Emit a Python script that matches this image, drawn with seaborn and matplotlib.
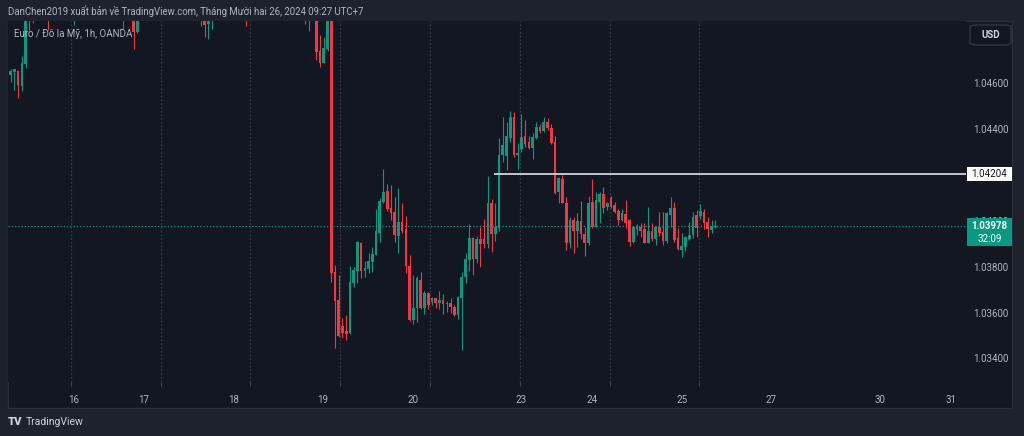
import matplotlib
matplotlib.use("Agg")
import matplotlib.pyplot as plt
from matplotlib.patches import Rectangle, FancyBboxPatch
import numpy as np
import pandas as pd
import seaborn as sns

# ---------------- data (EUR/USD 1h, OANDA) ----------------
# bar = hourly bar number relative to the FOMC candle (only bars visible in the chart)
bars = [-86, -85, -84, -83, -82, -81, -80, -76, -69, -56, -53, -52, -35, -34, -33, -32,
        -23, -7, -6, -4, -3, -2, -1] + list(range(0, 104))

opens = [1.04636, 1.04651, 1.04655, 1.04590, 1.04684, 1.04960, 1.04910, 1.05000, 1.04930, 1.04920,
         1.04950, 1.04825, 1.05000, 1.04900, 1.04859, 1.04890, 1.04990, 1.04980, 1.04920, 1.04960,
         1.04741, 1.04690, 1.04748,
         1.04950, 1.03778, 1.03655, 1.03541, 1.03519, 1.03509, 1.03730, 1.03782, 1.03905, 1.03782,
         1.03790, 1.03819, 1.03851, 1.03948, 1.04083, 1.04130, 1.04055, 1.04037, 1.03935, 1.03994,
         1.03963, 1.03804, 1.03567, 1.03618, 1.03742, 1.03618, 1.03686, 1.03645, 1.03662, 1.03641,
         1.03655, 1.03637, 1.03643, 1.03625, 1.03589, 1.03662, 1.03754, 1.03829, 1.03924, 1.03832,
         1.03920, 1.03920, 1.03899, 1.04079, 1.03943, 1.03967, 1.04287, 1.04283, 1.04360, 1.04452,
         1.04287, 1.04312, 1.04370, 1.04345, 1.04316, 1.04360, 1.04411, 1.04393, 1.04432, 1.04404,
         1.04345, 1.04127, 1.04181, 1.04079, 1.03902, 1.04004, 1.03957, 1.03999, 1.03943, 1.03905,
         1.04083, 1.03974, 1.04083, 1.04117, 1.04059, 1.04098, 1.04069, 1.04044, 1.04004, 1.04030,
         1.04004, 1.03909, 1.03963, 1.03974, 1.03963, 1.03905, 1.03957, 1.03919, 1.03974, 1.03953,
         1.03913, 1.04025, 1.04055, 1.03924, 1.03873, 1.03884, 1.03919, 1.03938, 1.04025, 1.04021,
         1.04040, 1.03996, 1.03960, 1.03972]

highs = [1.04661, 1.04663, 1.04658, 1.04719, 1.04950, 1.04990, 1.05010, 1.05030, 1.05020, 1.05010,
         1.04980, 1.04990, 1.05030, 1.04930, 1.04920, 1.04970, 1.05020, 1.05010, 1.04990, 1.04990,
         1.04811, 1.04803, 1.04990,
         1.04990, 1.03807, 1.03764, 1.03577, 1.03589, 1.03803, 1.03800, 1.03913, 1.03909, 1.03826,
         1.03861, 1.03885, 1.04050, 1.04098, 1.04226, 1.04161, 1.04156, 1.04105, 1.04142, 1.04076,
         1.04021, 1.03850, 1.03764, 1.03759, 1.03775, 1.03695, 1.03688, 1.03669, 1.03664, 1.03695,
         1.03681, 1.03650, 1.03662, 1.03633, 1.03672, 1.03778, 1.03858, 1.03986, 1.03928, 1.03934,
         1.03974, 1.04007, 1.04196, 1.04094, 1.04079, 1.04360, 1.04452, 1.04432, 1.04480, 1.04476,
         1.04338, 1.04466, 1.04440, 1.04370, 1.04384, 1.04432, 1.04422, 1.04452, 1.04447, 1.04422,
         1.04370, 1.04193, 1.04200, 1.04103, 1.04015, 1.04015, 1.04033, 1.04088, 1.03974, 1.04108,
         1.04181, 1.04124, 1.04124, 1.04146, 1.04083, 1.04108, 1.04083, 1.04050, 1.04050, 1.04091,
         1.04007, 1.03979, 1.03986, 1.03989, 1.03989, 1.04062, 1.03989, 1.03977, 1.04040, 1.04040,
         1.04040, 1.04105, 1.04083, 1.03967, 1.03946, 1.03934, 1.03996, 1.04040, 1.04047, 1.04073,
         1.04050, 1.04015, 1.04004, 1.04004]

lows = [1.04607, 1.04571, 1.04535, 1.04566, 1.04665, 1.04834, 1.04862, 1.04833, 1.04854, 1.04836,
        1.04748, 1.04820, 1.04851, 1.04803, 1.04793, 1.04837, 1.04851, 1.04859, 1.04830, 1.04702,
        1.04672, 1.04688, 1.04741,
        1.03734, 1.03444, 1.03492, 1.03489, 1.03480, 1.03506, 1.03713, 1.03730, 1.03749, 1.03754,
        1.03771, 1.03778, 1.03849, 1.03909, 1.04079, 1.04044, 1.04004, 1.03909, 1.03861, 1.03946,
        1.03771, 1.03565, 1.03550, 1.03560, 1.03614, 1.03592, 1.03614, 1.03633, 1.03618, 1.03615,
        1.03594, 1.03604, 1.03599, 1.03585, 1.03570, 1.03436, 1.03727, 1.03782, 1.03764, 1.03815,
        1.03800, 1.03880, 1.03880, 1.03865, 1.03913, 1.03957, 1.04258, 1.04222, 1.04345, 1.04280,
        1.04225, 1.04302, 1.04321, 1.04312, 1.04268, 1.04356, 1.04384, 1.04389, 1.04396, 1.04335,
        1.04117, 1.04079, 1.04076, 1.03873, 1.03880, 1.03861, 1.03887, 1.03919, 1.03847, 1.03895,
        1.03967, 1.03972, 1.03992, 1.04035, 1.04047, 1.04055, 1.04033, 1.03982, 1.04001, 1.03967,
        1.03890, 1.03905, 1.03938, 1.03931, 1.03902, 1.03902, 1.03913, 1.03895, 1.03934, 1.03895,
        1.03905, 1.03974, 1.03909, 1.03873, 1.03841, 1.03870, 1.03916, 1.03924, 1.03928, 1.04007,
        1.03963, 1.03931, 1.03948, 1.03967]

closes = [1.04655, 1.04661, 1.04593, 1.04690, 1.04920, 1.04910, 1.04970, 1.04950, 1.04990, 1.04980,
          1.04825, 1.04960, 1.04940, 1.04856, 1.04890, 1.04950, 1.04930, 1.04920, 1.04970, 1.04738,
          1.04690, 1.04753, 1.04950,
          1.03774, 1.03652, 1.03497, 1.03509, 1.03506, 1.03734, 1.03785, 1.03906, 1.03782, 1.03795,
          1.03826, 1.03854, 1.03956, 1.04088, 1.04127, 1.04052, 1.04035, 1.03938, 1.03994, 1.03957,
          1.03803, 1.03567, 1.03618, 1.03749, 1.03618, 1.03686, 1.03633, 1.03662, 1.03643, 1.03655,
          1.03637, 1.03643, 1.03623, 1.03589, 1.03666, 1.03754, 1.03832, 1.03924, 1.03832, 1.03921,
          1.03900, 1.03898, 1.04079, 1.03943, 1.03972, 1.04287, 1.04330, 1.04370, 1.04452, 1.04287,
          1.04297, 1.04364, 1.04335, 1.04316, 1.04364, 1.04408, 1.04393, 1.04432, 1.04404, 1.04338,
          1.04123, 1.04186, 1.04079, 1.03902, 1.04004, 1.03957, 1.03999, 1.03943, 1.03905, 1.04079,
          1.03972, 1.04091, 1.04117, 1.04055, 1.04079, 1.04059, 1.04040, 1.04004, 1.04033, 1.03992,
          1.03909, 1.03972, 1.03974, 1.03957, 1.03905, 1.03957, 1.03919, 1.03974, 1.03946, 1.03913,
          1.04033, 1.04055, 1.03916, 1.03876, 1.03890, 1.03928, 1.03938, 1.04018, 1.03967, 1.04044,
          1.03989, 1.03963, 1.03977, 1.03978]

price_ticks = [1.03400, 1.03600, 1.03800, 1.04000, 1.04200, 1.04400, 1.04600]
day_labels = ["16", "17", "18", "19", "20", "23", "24", "25", "27", "30", "31"]
day_label_bars = [-69.0, -50.2, -26.1, -2.2, 21.9, 50.9, 69.9, 94.1, 118.0, 147.2, 166.3]
grid_bars = [-69.8, -45.7, -21.8, 2.3, 26.5, 50.6, 74.8, 98.6]
ray_price = 1.04204
ray_start_bar = 43.7
last_price = 1.03978
countdown = "32:09"
title = "DanChen2019 xuất bản về TradingView.com, Tháng Mười hai 26, 2024 09:27 UTC+7"
legend = "Euro / Đô la Mỹ, 1h, OANDA"

df = pd.DataFrame({"bar": bars, "open": opens, "high": highs, "low": lows, "close": closes})
df["up"] = df["close"] >= df["open"]

# ---------------- style ----------------
sns.set_theme(style="dark")
plt.rcParams['font.family'] = ['Roboto', 'DejaVu Sans']
UP, DOWN = "#089981", "#F23645"
BG, FRAME, TXT = "#131722", "#1e222d", "#b2b5be"

W, H = 1024, 436
fig = plt.figure(figsize=(W / 100, H / 100), dpi=100, facecolor=FRAME)
fig.add_artist(Rectangle((8 / W, 1 - 408 / H), (1012 - 8) / W, (408 - 21) / H,
                         transform=fig.transFigure, facecolor=BG, edgecolor="#2a2e39",
                         lw=1, zorder=-5))

ax = fig.add_axes([8 / W, 1 - 382 / H, (966 - 8) / W, (382 - 21) / H])
ax.set_facecolor(BG)
ax.grid(False)
for s in ax.spines.values():
    s.set_visible(False)

ax.set_xlim(-86.72, 170.25)
ax.set_ylim(1.03297, 1.04872)

# vertical dotted grid lines
ax.vlines(grid_bars, 1.03297, 1.04872, colors="#363a45", linestyles=(0, (1.5, 1.5)), lw=0.9, zorder=1)

# last price dotted line
ax.axhline(last_price, color=UP, ls=(0, (1, 1.6)), lw=0.9, zorder=1.5)

# candles
colors = np.where(df["up"], UP, DOWN)
ax.vlines(df["bar"], df["low"], df["high"], colors=colors, lw=0.8, zorder=2)
body_bottom = np.minimum(df["open"], df["close"])
body_h = np.maximum(np.abs(df["close"] - df["open"]), 0.00004)
ax.bar(df["bar"], body_h, bottom=body_bottom, width=0.72, color=colors, linewidth=0, zorder=3)

# horizontal ray
ax.hlines(ray_price, ray_start_bar, 170.25, colors="#c3c6ce", lw=1.4, zorder=4)

# y axis on right (1.04000 sits under the last-price badge, as in TradingView)
ax.yaxis.tick_right()
ax.set_yticks(price_ticks)
ax.set_yticklabels([f"{p:.5f}" for p in price_ticks])
ax.tick_params(axis="y", length=0, pad=5, labelsize=7, labelcolor=TXT)

# x axis
ax.set_xticks(day_label_bars)
ax.set_xticklabels(day_labels)
ax.set_xticks(grid_bars, minor=True)
ax.tick_params(axis="x", which="major", length=0, pad=9, labelsize=7, labelcolor=TXT)
ax.tick_params(axis="x", which="minor", length=3, width=0.8, color="#434651", bottom=True)

# price label boxes
def fx(px):
    return px / W

def fy(py):
    return 1 - py / H

fig.add_artist(Rectangle((fx(967), fy(181)), (1012 - 967) / W, 14 / H, transform=fig.transFigure,
                         facecolor="white", edgecolor="none", zorder=5))
fig.text(fx(989.5), fy(174), f"{ray_price:.5f}", color="#131722", fontsize=7,
         ha="center", va="center", zorder=6)

fig.add_artist(Rectangle((fx(967), fy(246)), (1012 - 967) / W, 28 / H, transform=fig.transFigure,
                         facecolor=UP, edgecolor="none", zorder=5))
fig.text(fx(989.5), fy(226), f"{last_price:.5f}", color="white", fontsize=7, fontweight="bold",
         ha="center", va="center", zorder=6)
fig.text(fx(989.5), fy(238.5), countdown, color="white", fontsize=7,
         ha="center", va="center", zorder=6)

# USD box
fig.add_artist(FancyBboxPatch((fx(970), fy(45)), (1011 - 970) / W, 20 / H,
                              boxstyle="round,pad=0,rounding_size=0.006",
                              transform=fig.transFigure, facecolor=BG, edgecolor="#363a45",
                              lw=0.9, zorder=5))
fig.text(fx(990.5), fy(35), "USD", color="#d1d4dc", fontsize=7, fontweight="bold",
         ha="center", va="center", zorder=6)

# titles
fig.text(fx(8), fy(11.5), title, color=TXT, fontsize=6.9, ha="left", va="center")
fig.text(fx(14), fy(34), legend, color=TXT, fontsize=7.0, ha="left", va="center", zorder=6)

# TradingView footer
fig.text(fx(8), fy(422), "TV", color="#d1d4dc", fontsize=8, fontweight="heavy",
         ha="left", va="center")
fig.text(fx(26), fy(422), "TradingView", color="#d1d4dc", fontsize=7.5, ha="left", va="center")

fig.savefig("out.png", dpi=100, facecolor=FRAME)
